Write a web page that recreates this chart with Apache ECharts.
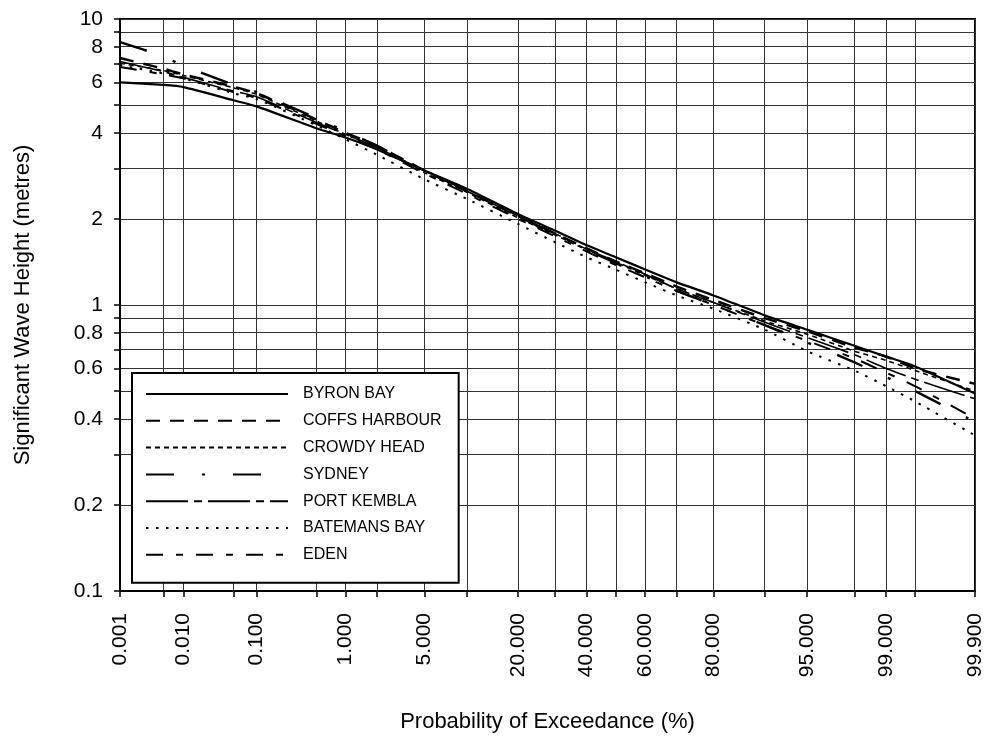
<!DOCTYPE html>
<html>
<head>
<meta charset="utf-8">
<title>Significant Wave Height - Probability of Exceedance</title>
<script src="https://cdn.jsdelivr.net/npm/echarts@6/dist/echarts.min.js"></script>
<style>
  html, body { margin: 0; padding: 0; background: #fff; }
  #chart { width: 990px; height: 744px; }
</style>
</head>
<body>
<div id="chart"></div>
<script>
const probs = [0.001, 0.005, 0.01, 0.05, 0.1, 0.5, 1, 2, 5, 10, 20, 30, 40, 50, 60, 70, 80, 90, 95, 98, 99, 99.5, 99.9];

// significant wave height (m) per station
const byronBay     = [6.0, 5.88, 5.78, 5.2, 4.95, 4.15, 3.85, 3.5, 2.95, 2.55, 2.08, 1.82, 1.62, 1.47, 1.33, 1.2, 1.08, 0.92, 0.82, 0.72, 0.66, 0.61, 0.49];
const coffsHarbour = [7.3, 6.7, 6.4, 5.8, 5.5, 4.45, 4.0, 3.6, 2.95, 2.5, 2.05, 1.78, 1.58, 1.42, 1.29, 1.16, 1.04, 0.9, 0.81, 0.71, 0.66, 0.6, 0.53];
const crowdyHead   = [7.0, 6.6, 6.35, 5.75, 5.45, 4.4, 3.95, 3.55, 2.9, 2.48, 2.02, 1.76, 1.56, 1.41, 1.27, 1.14, 1.02, 0.88, 0.79, 0.69, 0.64, 0.59, 0.5];
const sydney       = [8.3, 7.4, 6.85, 5.9, 5.55, 4.5, 4.05, 3.6, 2.95, 2.52, 2.05, 1.76, 1.56, 1.4, 1.26, 1.12, 1.0, 0.85, 0.74, 0.63, 0.56, 0.5, 0.39];
const portKembla   = [7.1, 6.55, 6.25, 5.6, 5.35, 4.35, 3.95, 3.55, 2.95, 2.5, 2.05, 1.78, 1.57, 1.42, 1.28, 1.14, 1.02, 0.87, 0.77, 0.67, 0.6, 0.55, 0.47];
const batemansBay  = [6.9, 6.45, 6.2, 5.5, 5.25, 4.25, 3.8, 3.35, 2.75, 2.35, 1.92, 1.66, 1.47, 1.33, 1.2, 1.08, 0.97, 0.82, 0.69, 0.59, 0.52, 0.46, 0.35];
const eden         = [6.8, 6.4, 6.2, 5.55, 5.3, 4.3, 3.9, 3.5, 2.88, 2.45, 2.0, 1.74, 1.54, 1.38, 1.25, 1.12, 1.0, 0.85, 0.75, 0.65, 0.58, 0.52, 0.4];

const stationNames = ["BYRON BAY", "COFFS HARBOUR", "CROWDY HEAD", "SYDNEY", "PORT KEMBLA", "BATEMANS BAY", "EDEN"];

// axis ticks / labels
const xGridProbs = [0.001, 0.005, 0.01, 0.05, 0.1, 0.5, 1, 2, 5, 10, 20, 30, 40, 50, 60, 70, 80, 90, 95, 98, 99, 99.5, 99.9];
const xLabelProbs = [0.001, 0.01, 0.1, 1, 5, 20, 40, 60, 80, 95, 99, 99.9];
const xLabelTexts = ["0.001", "0.010", "0.100", "1.000", "5.000", "20.000", "40.000", "60.000", "80.000", "95.000", "99.000", "99.900"];
const yTicks = [0.1, 0.2, 0.3, 0.4, 0.5, 0.6, 0.7, 0.8, 0.9, 1, 2, 3, 4, 5, 6, 7, 8, 9, 10];
const yLabels = [0.1, 0.2, 0.4, 0.6, 0.8, 1, 2, 4, 6, 8, 10];

// normal probability paper: x axis is the standard normal quantile
function probit(p) {
  const a = [-3.969683028665376e+01, 2.209460984245205e+02, -2.759285104469687e+02, 1.383577518672690e+02, -3.066479806614716e+01, 2.506628277459239e+00];
  const b = [-5.447609879822406e+01, 1.615858368580409e+02, -1.556989798598866e+02, 6.680131188771972e+01, -1.328068155288572e+01];
  const c = [-7.784894002430293e-03, -3.223964580411365e-01, -2.400758277161838e+00, -2.549732539343734e+00, 4.374664141464968e+00, 2.938163982698783e+00];
  const d = [7.784695709041462e-03, 3.224671290700398e-01, 2.445134137142996e+00, 3.754408661907416e+00];
  const pl = 0.02425;
  let q, r;
  if (p < pl) {
    q = Math.sqrt(-2 * Math.log(p));
    return (((((c[0] * q + c[1]) * q + c[2]) * q + c[3]) * q + c[4]) * q + c[5]) / ((((d[0] * q + d[1]) * q + d[2]) * q + d[3]) * q + 1);
  }
  if (p > 1 - pl) {
    q = Math.sqrt(-2 * Math.log(1 - p));
    return -(((((c[0] * q + c[1]) * q + c[2]) * q + c[3]) * q + c[4]) * q + c[5]) / ((((d[0] * q + d[1]) * q + d[2]) * q + d[3]) * q + 1);
  }
  q = p - 0.5;
  r = q * q;
  return (((((a[0] * r + a[1]) * r + a[2]) * r + a[3]) * r + a[4]) * r + a[5]) * q / (((((b[0] * r + b[1]) * r + b[2]) * r + b[3]) * r + b[4]) * r + 1);
}
const zOf = (pct) => probit(pct / 100);

const xMin = zOf(0.001);
const xMax = zOf(99.9);
const xLabelZ = xLabelProbs.map(zOf);

const lineStyles = [
  { width: 2.2, type: "solid" },
  { width: 2.5, type: [14, 10] },
  { width: 1.6, type: [5, 4] },
  { width: 2.4, type: [28, 28, 3, 28] },
  { width: 1.6, type: [42, 6, 8, 6] },
  { width: 2, type: [2.5, 7.5] },
  { width: 2, type: [17, 13, 7, 13] },
];
const allValues = [byronBay, coffsHarbour, crowdyHead, sydney, portKembla, batemansBay, eden];

const font = "'Liberation Sans', Arial, sans-serif";
const gridLine = { show: true, lineStyle: { color: "#333", width: 1 } };

const myChart = echarts.init(document.getElementById("chart"));
const option = {
  animation: false,
  backgroundColor: "#fff",
  textStyle: { fontFamily: font },
  grid: {
    left: 120, right: 15, top: 19, bottom: 153,
    show: true, borderColor: "#000", borderWidth: 2,
  },
  legend: {
    orient: "vertical",
    left: 132, top: 373,
    padding: [13, 17, 20, 13],
    itemWidth: 142, itemHeight: 14, itemGap: 10.8,
    backgroundColor: "#fff",
    borderColor: "#000", borderWidth: 2,
    itemStyle: { opacity: 0 },
    textStyle: { fontSize: 16, color: "#000", fontFamily: font, padding: [0, 0, 0, 10] },
    data: stationNames,
  },
  xAxis: {
    type: "value",
    min: xMin, max: xMax,
    name: "Probability of Exceedance (%)",
    nameLocation: "middle", nameGap: 120,
    nameTextStyle: { fontSize: 22, color: "#000", fontFamily: font },
    axisLine: { onZero: false, lineStyle: { color: "#000", width: 2 } },
    axisTick: { length: 6, customValues: xGridProbs.map(zOf), lineStyle: { color: "#000", width: 1.5 } },
    axisLabel: {
      customValues: xLabelZ,
      rotate: 90, margin: 22,
      fontSize: 21, color: "#000", fontFamily: font,
      formatter: (value) => {
        let best = 0;
        xLabelZ.forEach((zv, i) => {
          if (Math.abs(zv - value) < Math.abs(xLabelZ[best] - value)) best = i;
        });
        return xLabelTexts[best];
      },
    },
    splitLine: gridLine,
  },
  yAxis: {
    type: "log", logBase: 10,
    min: 0.1, max: 10,
    name: "Significant Wave Height (metres)",
    nameLocation: "middle", nameGap: 86,
    nameTextStyle: { fontSize: 22, color: "#000", fontFamily: font },
    axisLine: { show: true, onZero: false, lineStyle: { color: "#000", width: 2 } },
    axisTick: { show: true, length: 6, customValues: yTicks, lineStyle: { color: "#000", width: 1.5 } },
    axisLabel: {
      customValues: yLabels, margin: 17,
      fontSize: 21, color: "#000", fontFamily: font,
      formatter: (v) => String(+v.toFixed(1)),
    },
    splitLine: gridLine,
  },
  series: stationNames.map((name, i) => ({
    name,
    type: "line",
    symbol: "none",
    smooth: 0.2,
    z: 3,
    lineStyle: Object.assign({ color: "#000" }, lineStyles[i]),
    itemStyle: { color: "#000" },
    data: probs.map((p, j) => [zOf(p), allValues[i][j]]),
  })),
};
myChart.setOption(option);
window.addEventListener("resize", () => myChart.resize());
</script>
</body>
</html>
